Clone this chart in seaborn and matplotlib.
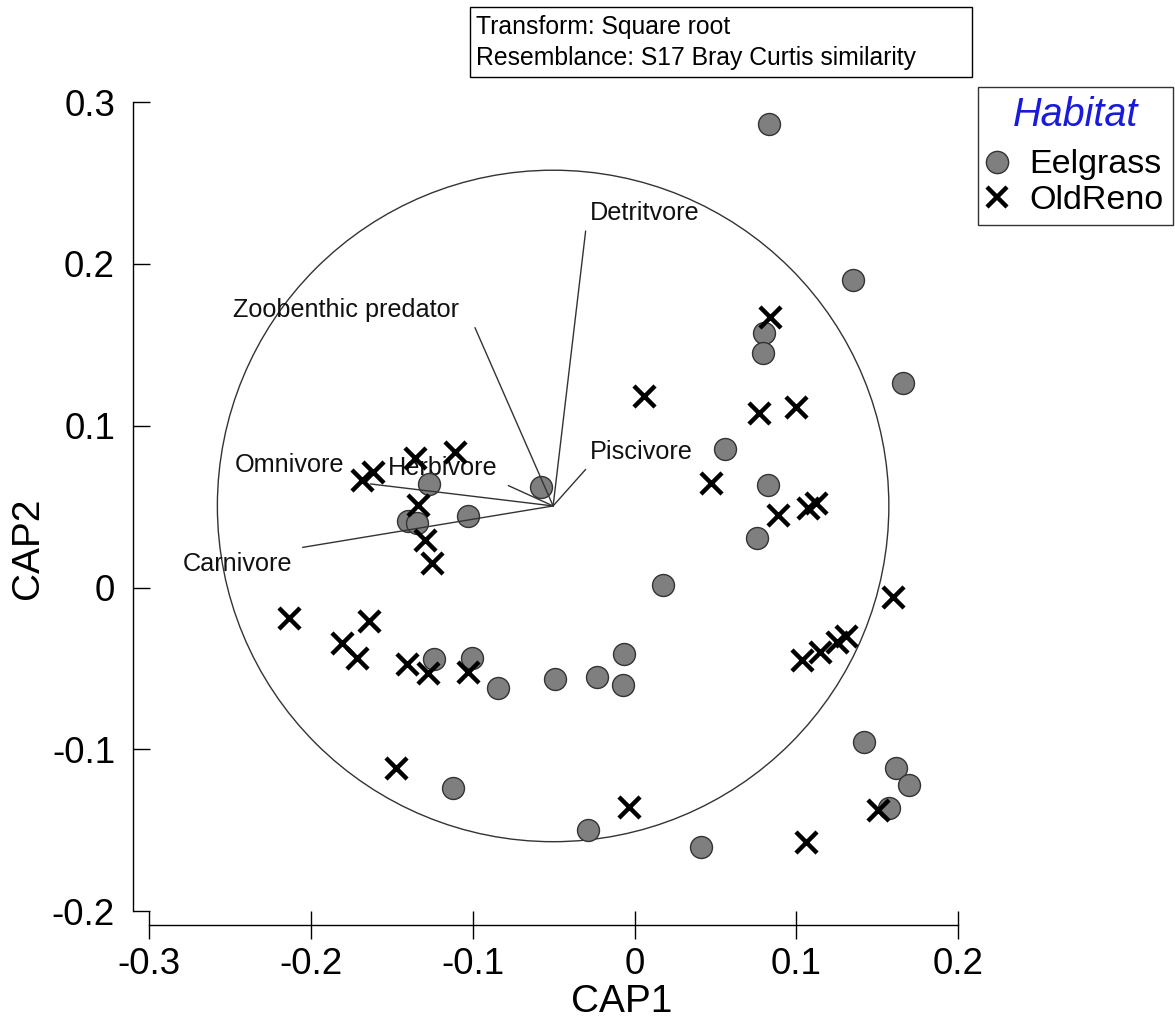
import numpy as np
import pandas as pd
import matplotlib
matplotlib.use("Agg")
import matplotlib.pyplot as plt
import seaborn as sns
from matplotlib.patches import Circle, Rectangle
from matplotlib.lines import Line2D
from matplotlib import font_manager

# ---- data ----
eelgrass_x = [0.0833, 0.1349, 0.0800, 0.0792, 0.1661, 0.0559, 0.0823, 0.0759,
              -0.0580, -0.1270, -0.1402, -0.1342, -0.1027, 0.0178, -0.1239, -0.1006,
              -0.0842, -0.0491, -0.0230, -0.0063, -0.0073, -0.1120, -0.0289, 0.0409,
              0.1420, 0.1616, 0.1697, 0.1575]
eelgrass_y = [0.2863, 0.1900, 0.1571, 0.1447, 0.1262, 0.0854, 0.0634, 0.0304,
              0.0623, 0.0640, 0.0411, 0.0400, 0.0439, 0.0015, -0.0444, -0.0434,
              -0.0619, -0.0566, -0.0551, -0.0413, -0.0603, -0.1241, -0.1499, -0.1606,
              -0.0957, -0.1117, -0.1221, -0.1361]
oldreno_x = [0.0837, 0.0059, 0.0769, 0.0998, 0.0471, 0.0889, 0.1074, 0.1122,
             -0.1357, -0.1109, -0.1616, -0.1684, -0.1336, -0.1295, -0.1253, -0.2135,
             -0.1639, -0.1806, -0.1713, -0.1404, -0.1274, -0.1027, -0.1474, -0.0034,
             0.1596, 0.1033, 0.1146, 0.1250, 0.1307, 0.1507, 0.1060]
oldreno_y = [0.1670, 0.1184, 0.1080, 0.1114, 0.0644, 0.0448, 0.0489, 0.0520,
             0.0799, 0.0839, 0.0716, 0.0664, 0.0510, 0.0294, 0.0150, -0.0187,
             -0.0207, -0.0341, -0.0434, -0.0475, -0.0530, -0.0520, -0.1114, -0.1355,
             -0.0057, -0.0448, -0.0397, -0.0335, -0.0300, -0.1375, -0.1571]

vector_names = ["Detritvore", "Zoobenthic predator", "Omnivore", "Herbivore", "Piscivore", "Carnivore"]
vector_end_x = [-0.0302, -0.0986, -0.1632, -0.0780, -0.0302, -0.2051]
vector_end_y = [0.2203, 0.1606, 0.0640, 0.0630, 0.0730, 0.0248]
vector_origin = (-0.0503, 0.0504)
circle_radius = 0.2075

label_x = [-0.0275, -0.2481, -0.2469, -0.1524, -0.0275, -0.2792]
label_y = [0.2316, 0.1715, 0.0757, 0.0739, 0.0837, 0.0143]

x_ticks = [-0.3, -0.2, -0.1, 0, 0.1, 0.2]
x_ticklabels = ["-0.3", "-0.2", "-0.1", "0", "0.1", "0.2"]
y_ticks = [-0.2, -0.1, 0, 0.1, 0.2, 0.3]
y_ticklabels = ["-0.2", "-0.1", "0", "0.1", "0.2", "0.3"]

df = pd.DataFrame({
    "CAP1": eelgrass_x + oldreno_x,
    "CAP2": eelgrass_y + oldreno_y,
    "Habitat": ["Eelgrass"] * len(eelgrass_x) + ["OldReno"] * len(oldreno_x),
})

sns.set_theme(style="ticks")
plt.rcParams["font.family"] = ["Liberation Sans", "DejaVu Sans"]
plt.rcParams["text.color"] = "black"
plt.rcParams["axes.labelcolor"] = "black"
plt.rcParams["xtick.color"] = "black"
plt.rcParams["ytick.color"] = "black"

available = {f.name for f in font_manager.fontManager.ttflist}
narrow = "Liberation Sans Narrow" if "Liberation Sans Narrow" in available else "Liberation Sans"

W, H = 1175, 1023
fig = plt.figure(figsize=(W / 100, H / 100), dpi=100)
fig.patch.set_facecolor("white")
ax = fig.add_axes([149.1 / W, 1 - 911.1 / H, 809 / W, 809 / H])
ax.set_facecolor("white")

# biplot circle and vectors
ax.add_patch(Circle(vector_origin, circle_radius, fill=False, ec="#333333", lw=1.0, zorder=1))
for i, name in enumerate(vector_names):
    ax.plot([vector_origin[0], vector_end_x[i]], [vector_origin[1], vector_end_y[i]],
            color="#333333", lw=1.0, zorder=4)
    ax.text(label_x[i], label_y[i], name, ha="left", va="center", fontsize=18.2,
            color="#111111", zorder=2)

sns.scatterplot(data=df[df.Habitat == "Eelgrass"], x="CAP1", y="CAP2", marker="o",
                s=250, color="#7f7f7f", edgecolor="#333333", linewidth=1.0, ax=ax,
                zorder=3, legend=False)
sns.scatterplot(data=df[df.Habitat == "OldReno"], x="CAP1", y="CAP2", marker="x",
                s=230, color="black", linewidth=3.2, ax=ax, zorder=3, legend=False)

ax.set_xlim(-0.3, 0.2)
ax.set_ylim(-0.2, 0.3)
ax.set_xticks(x_ticks)
ax.set_yticks(y_ticks)
sns.despine(ax=ax, offset={"left": 11.5, "bottom": 10}, trim=True)
ax.set_xticks(x_ticks)
ax.set_xticklabels(x_ticklabels)
ax.set_yticks(y_ticks)
ax.set_yticklabels(y_ticklabels)
ax.tick_params(axis="x", direction="inout", length=20, width=1.0, color="black",
               pad=6, labelsize=26.5, labelcolor="black")
ax.tick_params(axis="y", direction="in", length=12, width=1.0, color="black",
               pad=13, labelsize=26.5, labelcolor="black")
for lab in ax.get_xticklabels() + ax.get_yticklabels():
    lab.set_fontfamily(narrow)
for sp in ("left", "bottom"):
    ax.spines[sp].set_color("black")
    ax.spines[sp].set_linewidth(1.0)

ax.set_xlabel("CAP1", fontfamily=narrow, fontsize=28, color="black")
ax.set_ylabel("CAP2", fontfamily=narrow, fontsize=28, color="black")
ax.xaxis.set_label_coords((622 - 149.1) / 809, (911.1 - 984) / 809)
ax.yaxis.set_label_coords((46 - 149.1) / 809, (911.1 - 548) / 809)

# legend
handles = [
    Line2D([], [], marker="o", ls="", markersize=16, markerfacecolor="#7f7f7f",
           markeredgecolor="#333333", markeredgewidth=1.0),
    Line2D([], [], marker="x", ls="", markersize=14, color="black", markeredgewidth=3.2),
]
leg = fig.legend(handles, ["Eelgrass", "OldReno"], loc="upper right",
                 bbox_to_anchor=(1173 / W, 1 - 87 / H), frameon=True, fancybox=False,
                 edgecolor="black", fontsize=24.5, title="Habitat",
                 title_fontproperties={"size": 28.5, "style": "italic"},
                 handlelength=0.6, handletextpad=0.65, borderpad=0.27, labelspacing=0.12,
                 borderaxespad=0)
leg.get_title().set_color("#1a1adb")
leg.get_frame().set_linewidth(1.0)
leg._legend_box.sep = 11

# info box
fig.add_artist(Rectangle((470 / W, 1 - 77 / H), 502 / W, 70 / H, transform=fig.transFigure,
                         fill=False, ec="black", lw=1.0))
fig.text(476 / W, 1 - 27 / H, "Transform: Square root", ha="left", va="center", fontsize=17.8)
fig.text(476 / W, 1 - 58 / H, "Resemblance: S17 Bray Curtis similarity", ha="left",
         va="center", fontsize=17.8)

fig.savefig("out.png", dpi=100, facecolor="white")
